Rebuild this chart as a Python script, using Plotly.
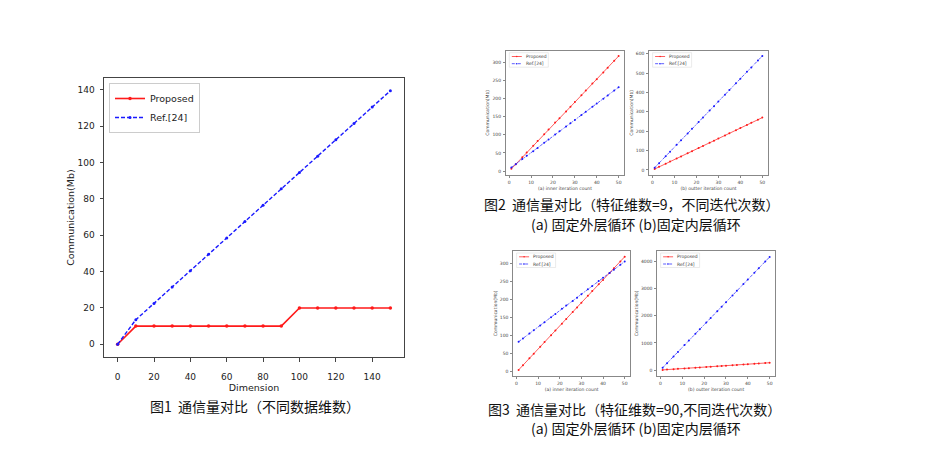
import plotly.graph_objects as go

# ---------- Figure 1 data ----------
dim = [0, 10, 20, 30, 40, 50, 60, 70, 80, 90, 100, 110, 120, 130, 140, 150]
f1_proposed = [0, 10, 10, 10, 10, 10, 10, 10, 10, 10, 20, 20, 20, 20, 20, 20]
f1_ref = [0, 13.5, 22.5, 31.5, 40.5, 49.5, 58.5, 67.5, 76.5, 85.5, 94.5, 103.5, 112.5, 121.5, 130.5, 139.5]

# ---------- Figures 2/3 data ----------
iters = [1, 3, 6, 8, 11, 13, 16, 18, 21, 23, 26, 28, 30, 33, 35, 38, 40, 43, 45, 48, 50]
f2a_proposed = [6, 19, 38, 51, 70, 83, 102, 115, 134, 146, 165, 178, 191, 210, 223, 242, 254, 273, 286, 305, 318]
f2a_ref = [10, 19, 33, 42, 55, 64, 78, 87, 101, 110, 123, 132, 141, 155, 164, 178, 187, 200, 209, 223, 232]
f2b_proposed = [5, 16, 32, 43, 59, 70, 86, 97, 113, 124, 140, 151, 162, 178, 189, 205, 216, 232, 243, 259, 270]
f2b_ref = [12, 35, 71, 94, 130, 153, 188, 212, 247, 271, 306, 329, 353, 388, 412, 447, 470, 506, 529, 564, 588]
f3a_proposed = [5, 18, 37, 50, 69, 82, 101, 114, 133, 146, 165, 178, 191, 210, 223, 242, 254, 273, 286, 305, 318]
f3a_ref = [83, 92, 106, 115, 128, 137, 151, 160, 174, 183, 196, 205, 214, 228, 237, 251, 260, 273, 282, 296, 305]
f3b_proposed = [5, 16, 32, 43, 59, 70, 86, 97, 113, 124, 140, 151, 162, 178, 189, 205, 216, 232, 243, 259, 270]
f3b_ref = [85, 252, 503, 670, 921, 1088, 1339, 1506, 1756, 1924, 2174, 2341, 2509, 2759, 2926, 3177, 3344, 3595, 3762, 4013, 4180]

series_names = ["Proposed", "Ref.[24]"]
caption1 = "图1  通信量对比（不同数据维数）"
caption2 = ["图2  通信量对比（特征维数=9，不同迭代次数）", "(a) 固定外层循环 (b)固定内层循环"]
caption3 = ["图3  通信量对比（特征维数=90,不同迭代次数）", "(a) 固定外层循环 (b)固定内层循环"]

RED = "#ff1a1a"
BLUE = "#1a1aff"
W, H = 927, 459

def px(x):
    return x / W

def py(y):
    return 1 - y / H

fig = go.Figure()

# Figure 1
fig.add_trace(go.Scatter(x=dim, y=f1_proposed, name=series_names[0], mode="lines+markers",
                         line=dict(color=RED, width=1.6), marker=dict(size=3.5, color=RED),
                         xaxis="x", yaxis="y"))
fig.add_trace(go.Scatter(x=dim, y=f1_ref, name=series_names[1], mode="lines+markers",
                         line=dict(color=BLUE, width=1.4, dash="4px,2px"), marker=dict(size=3, color=BLUE),
                         xaxis="x", yaxis="y"))

small = [
    ("x2", "y2", f2a_proposed, f2a_ref, (506, 50.7)),
    ("x3", "y3", f2b_proposed, f2b_ref, (649.3, 50.7)),
    ("x4", "y4", f3a_proposed, f3a_ref, (513.3, 251)),
    ("x5", "y5", f3b_proposed, f3b_ref, (657.3, 251)),
]
SRED = "rgba(255,30,30,0.8)"
SBLUE = "rgba(30,30,255,0.8)"
SDASH = "3px,1px,1px,1px"
for xa, ya, p, r, _ in small:
    fig.add_trace(go.Scatter(x=iters, y=p, name=series_names[0], mode="lines+markers",
                             line=dict(color=SRED, width=0.9), marker=dict(size=2, color=RED),
                             xaxis=xa, yaxis=ya, showlegend=False))
    fig.add_trace(go.Scatter(x=iters, y=r, name=series_names[1], mode="lines+markers",
                             line=dict(color=SBLUE, width=0.9, dash=SDASH), marker=dict(size=2, color=BLUE),
                             xaxis=xa, yaxis=ya, showlegend=False))

big_font = dict(family="DejaVu Sans", size=9, color="#222")
big_title_font = dict(family="DejaVu Sans", size=9.5, color="#222")
small_font = dict(family="DejaVu Sans", size=4.5, color="#444")

def axis(domain, rng, dtick, title, font, tfont, anchor, linecolor, ticklen, standoff, tstand):
    return dict(domain=domain, range=rng, dtick=dtick, tick0=0, showgrid=False, zeroline=False,
                showline=True, mirror=True, linecolor=linecolor, linewidth=1,
                ticks="outside", ticklen=ticklen, tickcolor=linecolor, tickfont=font,
                ticklabelstandoff=standoff,
                title=dict(text=title, font=tfont, standoff=tstand), anchor=anchor)

layout = dict(
    width=W, height=H, margin=dict(l=0, r=0, t=0, b=0),
    paper_bgcolor="white", plot_bgcolor="white", showlegend=True,
    xaxis=axis([px(104), px(404)], [-7.5, 157.5], 20, "Dimension", big_font, big_title_font, "y", "#444", 3.5, 8, 3),
    yaxis=axis([py(357), py(78)], [-7, 146.5], 20, "Communication(Mb)", big_font, big_title_font, "x", "#444", 3.5, 3, 1),
    xaxis2=axis([px(506), px(624)], [-1.45, 52.45], 10, "(a) inner iteration count", small_font, small_font, "y2", "#888", 2, 1, 2),
    yaxis2=axis([py(175), py(50.7)], [-11, 333], 50, "Communication(Mb)", small_font, small_font, "x2", "#888", 2, 1, 2),
    xaxis3=axis([px(649.3), px(767.7)], [-1.45, 52.45], 10, "(b) outter iteration count", small_font, small_font, "y3", "#888", 2, 1, 2),
    yaxis3=axis([py(175), py(50.7)], [-26, 615], 100, "Communication(Mb)", small_font, small_font, "x3", "#888", 2, 1, 2),
    xaxis4=axis([px(513.3), px(630)], [-1.45, 52.45], 10, "(a) inner iteration count", small_font, small_font, "y4", "#888", 2, 1, 2),
    yaxis4=axis([py(375.7), py(251)], [-11, 334], 50, "Communication(Mb)", small_font, small_font, "x4", "#888", 2, 1, 2),
    xaxis5=axis([px(657.3), px(775)], [-1.45, 52.45], 10, "(b) outter iteration count", small_font, small_font, "y5", "#888", 2, 1, 2),
    yaxis5=axis([py(375.7), py(251)], [-210, 4400], 1000, "Communication(Mb)", small_font, small_font, "x5", "#888", 2, 1, 2),
    legend=dict(x=px(109), y=py(83), xanchor="left", yanchor="top", bgcolor="white",
                bordercolor="#ccc", borderwidth=1, font=dict(family="DejaVu Sans", size=9.5, color="#222"),
                itemwidth=30, tracegroupgap=0),
)
fig.update_layout(**layout)

# Small hand-drawn legends (decoration only) for the four small panels
shapes = []
for xa, ya, p, r, (ax0, ay0) in small:
    bx0, by0 = ax0 + 3.3, ay0 + 2
    shapes.append(dict(type="rect", xref="paper", yref="paper", x0=px(bx0), x1=px(bx0 + 39),
                       y0=py(by0), y1=py(by0 + 14.5), fillcolor="rgba(255,255,255,0.85)",
                       line=dict(color="#dddddd", width=0.6), layer="above"))
    for i, (col, dash, mcol) in enumerate([(SRED, "solid", RED), (SBLUE, SDASH, BLUE)]):
        yy = by0 + 3.8 + i * 7.2
        shapes.append(dict(type="line", xref="paper", yref="paper", x0=px(bx0 + 2.5), x1=px(bx0 + 12.5),
                           y0=py(yy), y1=py(yy), line=dict(color=col, width=0.9, dash=dash), layer="above"))
        shapes.append(dict(type="circle", xref="paper", yref="paper", x0=px(bx0 + 6.8), x1=px(bx0 + 8.2),
                           y0=py(yy - 0.7), y1=py(yy + 0.7), fillcolor=mcol, line=dict(width=0), layer="above"))
        fig.add_annotation(x=px(bx0 + 14.5), y=py(yy), text=series_names[i], showarrow=False,
                           xref="paper", yref="paper", xanchor="left", yanchor="middle",
                           font=dict(family="DejaVu Sans", size=4.5, color="#444"))
fig.update_layout(shapes=shapes)

cap_font = dict(family="Noto Sans CJK SC", size=14, color="#111")
cap_specs = [
    (255, 406, caption1),
    (632, 204, caption2[0]), (636, 224, caption2[1]),
    (634, 409, caption3[0]), (636, 428, caption3[1]),
]
for cx, cy, txt in cap_specs:
    fig.add_annotation(x=px(cx), y=py(cy), text=txt, showarrow=False, xref="paper", yref="paper",
                       font=cap_font, xanchor="center", yanchor="middle")

fig.write_html("out.html")
